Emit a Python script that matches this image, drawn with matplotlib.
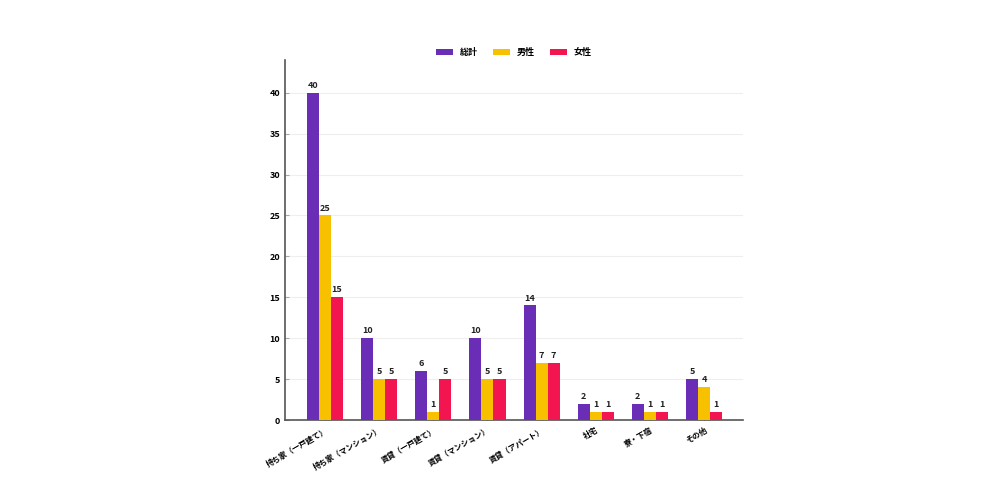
from matplotlib import pyplot as plt
from matplotlib import transforms
import numpy as np

plt.rcParams['font.family'] = ['Noto Sans CJK JP', 'DejaVu Sans']

categories = ["持ち家（一戸建て）", "持ち家（マンション）", "賃貸（一戸建て）", "賃貸（マンション）",
              "賃貸（アパート）", "社宅", "寮・下宿", "その他"]
total = [40, 10, 6, 10, 14, 2, 2, 5]
male = [25, 5, 1, 5, 7, 1, 1, 4]
female = [15, 5, 5, 5, 7, 1, 1, 1]
series_names = ["総計", "男性", "女性"]
colors = ["#6a2db5", "#f7c100", "#f2154f"]

fig = plt.figure(figsize=(10, 5), dpi=100)
ax = fig.add_axes([0.285, 0.16, 0.458, 0.72])

x = np.arange(len(categories))
w = 0.222
for i, (vals, name, c) in enumerate(zip([total, male, female], series_names, colors)):
    bars = ax.bar(x + (i - 1) * w, vals, w, color=c, label=name, zorder=3)
    for b, v in zip(bars, vals):
        ax.text(b.get_x() + b.get_width() / 2, v + 0.35, str(v), ha='center', va='bottom',
                fontsize=6.5, fontweight='bold', color='#222222')

ax.set_xlim(-0.74, 7.72)
ax.set_ylim(0, 44)
ax.set_yticks(range(0, 45, 5))
ax.set_xticks(x)
ax.set_xticklabels(categories, rotation=30, ha='right', rotation_mode='anchor',
                   fontsize=5.6, fontweight='bold')
# nudge category labels a little to the left
shift = transforms.ScaledTranslation(-6 / 72, 0, fig.dpi_scale_trans)
for t in ax.get_xticklabels():
    t.set_transform(t.get_transform() + shift)
for t in ax.get_yticklabels():
    t.set_fontweight('bold')
ax.tick_params(axis='y', direction='in', length=3, labelsize=6.5, color='#aaaaaa')
ax.tick_params(axis='x', direction='in', length=3, color='#555555', pad=4)
ax.yaxis.grid(True, color='#eeeeee', linewidth=0.8, zorder=0)
for s in ['top', 'right']:
    ax.spines[s].set_visible(False)
for s in ['left', 'bottom']:
    ax.spines[s].set_color('#555555')
    ax.spines[s].set_linewidth(1.2)

leg = ax.legend(loc='center', bbox_to_anchor=(0.5, 1.02), ncol=3, frameon=False,
                fontsize=6.5, handlelength=1.9, handleheight=0.6, columnspacing=1.6)
for t in leg.get_texts():
    t.set_fontweight('bold')

fig.savefig("out.png", dpi=100)
